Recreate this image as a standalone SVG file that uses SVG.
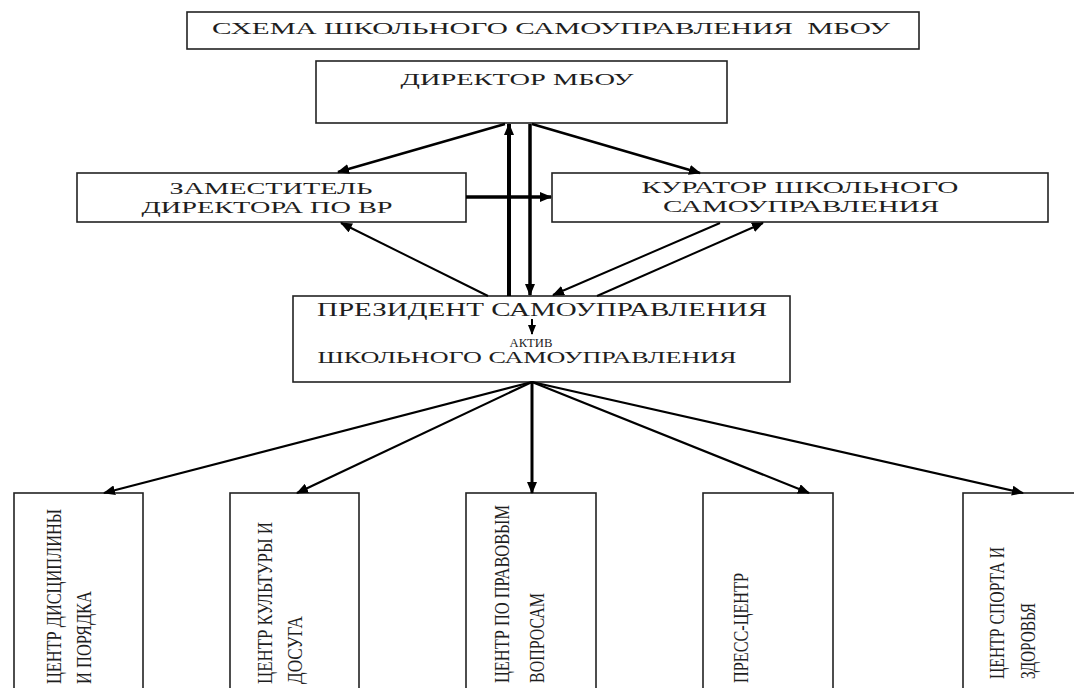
<svg xmlns="http://www.w3.org/2000/svg" width="1074" height="688" viewBox="0 0 1074 688">
<defs>
<style>
.box{fill:#fff;stroke:#222;stroke-width:1.6}
.t{font-family:"Liberation Serif","Times New Roman",serif;fill:#1e1e1e;text-anchor:middle}
.v{font-family:"Liberation Serif","Times New Roman",serif;fill:#1e1e1e;font-size:20px}
.c{stroke:#000;fill:none}
</style>
<marker id="ah" viewBox="0 0 12 10" refX="11" refY="5" markerWidth="12" markerHeight="10" markerUnits="userSpaceOnUse" orient="auto"><path d="M0,0 L12,5 L0,10 z" fill="#000"/></marker>
<marker id="ahs" viewBox="0 0 10 8" refX="9" refY="4" markerWidth="10" markerHeight="8" markerUnits="userSpaceOnUse" orient="auto"><path d="M0,0 L10,4 L0,8 z" fill="#000"/></marker>
</defs>
<rect width="1074" height="688" fill="#fff"/>

<g id="title">
<rect class="box" x="187" y="12" width="732" height="37"/>
<text class="t" x="551" y="34" font-size="16" textLength="678" lengthAdjust="spacingAndGlyphs" xml:space="preserve">СХЕМА ШКОЛЬНОГО САМОУПРАВЛЕНИЯ  МБОУ</text>
</g>

<g id="director">
<rect class="box" x="316" y="61" width="411" height="62"/>
<text class="t" x="517" y="85" font-size="17" textLength="233" lengthAdjust="spacingAndGlyphs">ДИРЕКТОР МБОУ</text>
</g>

<g id="deputy">
<rect class="box" x="77" y="173" width="389" height="49"/>
<text class="t" x="271" y="194" font-size="17" textLength="203" lengthAdjust="spacingAndGlyphs">ЗАМЕСТИТЕЛЬ</text>
<text class="t" x="267" y="213" font-size="17" textLength="251" lengthAdjust="spacingAndGlyphs">ДИРЕКТОРА ПО ВР</text>
</g>

<g id="curator">
<rect class="box" x="552" y="173" width="496" height="49"/>
<text class="t" x="800" y="193" font-size="17" textLength="317" lengthAdjust="spacingAndGlyphs">КУРАТОР ШКОЛЬНОГО</text>
<text class="t" x="801" y="212" font-size="17" textLength="276" lengthAdjust="spacingAndGlyphs">САМОУПРАВЛЕНИЯ</text>
</g>

<g id="president">
<rect class="box" x="293" y="296" width="497" height="86"/>
<text class="t" x="542" y="316" font-size="18" textLength="450" lengthAdjust="spacingAndGlyphs">ПРЕЗИДЕНТ САМОУПРАВЛЕНИЯ</text>
<text class="t" x="531" y="347" font-size="12" textLength="43" lengthAdjust="spacingAndGlyphs">АКТИВ</text>
<text class="t" x="527" y="363" font-size="16" textLength="419" lengthAdjust="spacingAndGlyphs">ШКОЛЬНОГО САМОУПРАВЛЕНИЯ</text>
</g>

<g id="center1">
<rect class="box" x="14" y="493" width="129" height="210"/>
<text class="v" transform="translate(61,684) rotate(-90)" textLength="175" lengthAdjust="spacingAndGlyphs">ЦЕНТР ДИСЦИПЛИНЫ</text>
<text class="v" transform="translate(91,684) rotate(-90)" textLength="93" lengthAdjust="spacingAndGlyphs">И ПОРЯДКА</text>
</g>

<g id="center2">
<rect class="box" x="230" y="493" width="129" height="210"/>
<text class="v" transform="translate(272,684) rotate(-90)" textLength="162" lengthAdjust="spacingAndGlyphs">ЦЕНТР КУЛЬТУРЫ И</text>
<text class="v" transform="translate(302,684) rotate(-90)" textLength="68" lengthAdjust="spacingAndGlyphs">ДОСУГА</text>
</g>

<g id="center3">
<rect class="box" x="466" y="493" width="130" height="210"/>
<text class="v" transform="translate(509,683) rotate(-90)" textLength="178" lengthAdjust="spacingAndGlyphs">ЦЕНТР ПО ПРАВОВЫМ</text>
<text class="v" transform="translate(544,683) rotate(-90)" textLength="90" lengthAdjust="spacingAndGlyphs">ВОПРОСАМ</text>
</g>

<g id="center4">
<rect class="box" x="703" y="493" width="130" height="210"/>
<text class="v" transform="translate(748,683) rotate(-90)" textLength="110" lengthAdjust="spacingAndGlyphs">ПРЕСС-ЦЕНТР</text>
</g>

<g id="center5">
<rect class="box" x="963" y="493" width="130" height="210"/>
<text class="v" transform="translate(1004,679) rotate(-90)" textLength="132" lengthAdjust="spacingAndGlyphs">ЦЕНТР СПОРТА И</text>
<text class="v" transform="translate(1035,679) rotate(-90)" textLength="76" lengthAdjust="spacingAndGlyphs">ЗДОРОВЬЯ</text>
</g>

<g id="connectors">
<line class="c" x1="505" y1="124" x2="338" y2="172" stroke-width="2.5" marker-end="url(#ah)"/>
<line class="c" x1="532" y1="124" x2="700" y2="173" stroke-width="2.5" marker-end="url(#ah)"/>
<line class="c" x1="509" y1="296" x2="509" y2="124" stroke-width="4" marker-end="url(#ah)"/>
<line class="c" x1="530" y1="124" x2="530" y2="295" stroke-width="3.5" marker-end="url(#ah)"/>
<line class="c" x1="466" y1="197" x2="551" y2="197" stroke-width="3.5" marker-end="url(#ah)"/>
<line class="c" x1="488" y1="296" x2="341" y2="223" stroke-width="2" marker-end="url(#ah)"/>
<line class="c" x1="720" y1="223" x2="553" y2="295" stroke-width="2" marker-end="url(#ah)"/>
<line class="c" x1="597" y1="296" x2="763" y2="223" stroke-width="2" marker-end="url(#ah)"/>
<line class="c" x1="532" y1="319" x2="532" y2="334" stroke-width="2" marker-end="url(#ahs)"/>
<line class="c" x1="532" y1="382" x2="104" y2="493" stroke-width="2.2" marker-end="url(#ah)"/>
<line class="c" x1="532" y1="382" x2="297" y2="493" stroke-width="2.2" marker-end="url(#ah)"/>
<line class="c" x1="532" y1="382" x2="532" y2="493" stroke-width="3" marker-end="url(#ah)"/>
<line class="c" x1="532" y1="382" x2="809" y2="493" stroke-width="2.2" marker-end="url(#ah)"/>
<line class="c" x1="532" y1="382" x2="1023" y2="493" stroke-width="2.2" marker-end="url(#ah)"/>
</g>
</svg>
